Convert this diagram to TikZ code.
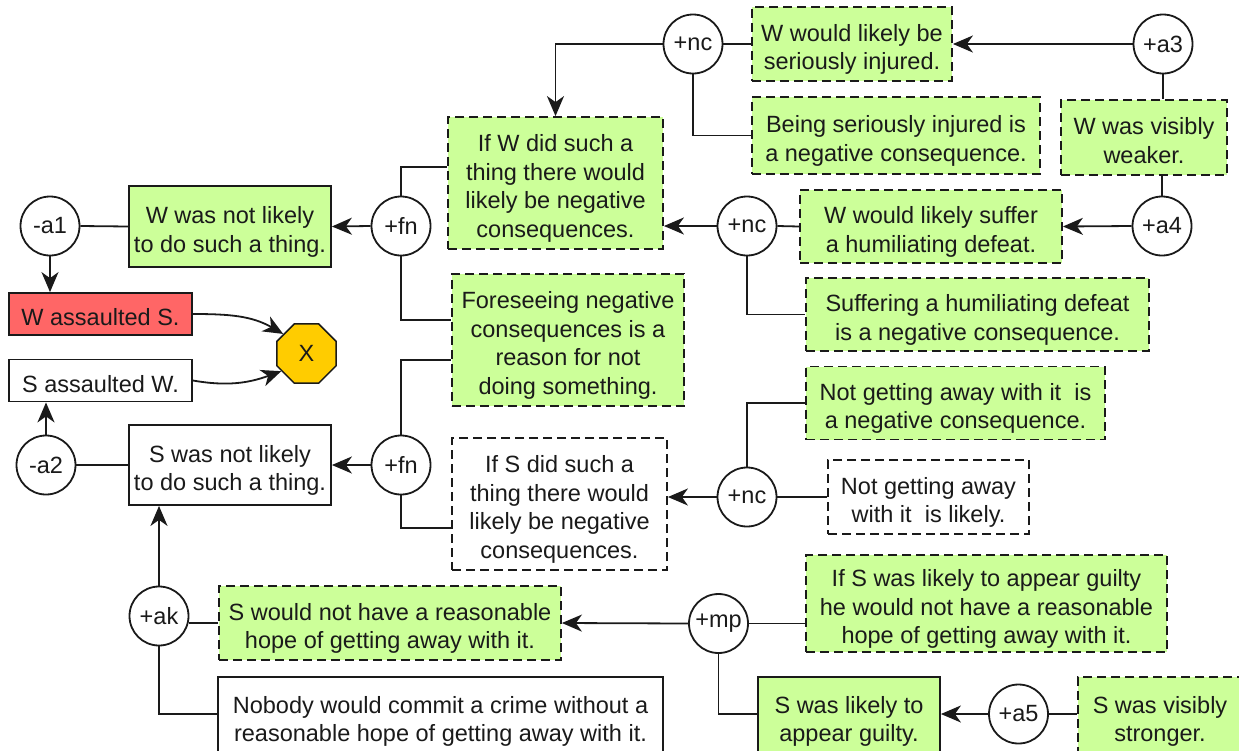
\documentclass[tikz,border=0pt]{standalone}
\usepackage{fontspec}
\setmainfont{Liberation Sans}
\usetikzlibrary{arrows.meta,shapes.geometric}
\definecolor{gfill}{HTML}{CCFF99}
\definecolor{rfill}{HTML}{FF6666}
\definecolor{ofill}{HTML}{FFCC00}
\definecolor{ink}{HTML}{1A1A1A}
\newcommand\TopS{\rule{0pt}{29pt}}
\newcommand\BotS{\rule[-6pt]{0pt}{6pt}}
\begin{document}
\begin{tikzpicture}[x=1pt,y=-1pt,
  every node/.style={font=\fontsize{23.5}{28.7}\selectfont, text=ink},
  circ/.style={circle, draw=ink, line width=1.8pt, fill=white, minimum size=59pt, inner sep=0pt},
  box/.style={rectangle, draw=ink, line width=1.8pt, align=center, inner sep=2pt},
  gbox/.style={box, fill=gfill},
  dbox/.style={box, dash pattern=on 9pt off 5pt},
  link/.style={draw=ink, line width=1.8pt},
  arr/.style={link, -{Stealth[length=20pt,width=17pt,inset=6pt]}},
]
\useasboundingbox (0,0) rectangle (1239,750);

% circles
\node[circ] (a1)  at (50,226)    {-a1};
\node[circ] (fn1) at (401,226)   {+fn};
\node[circ] (a2)  at (46,465)    {-a2};
\node[circ] (fn2) at (401,465)   {+fn};
\node[circ] (ak)  at (159,616)   {+ak};
\node[circ] (ncT) at (693,44)    {+nc};
\node[circ] (a3)  at (1163,44)   {+a3};
\node[circ] (ncM) at (747,226)   {+nc};
\node[circ] (a4)  at (1162,226)  {+a4};
\node[circ] (ncL) at (747,497)   {+nc};
\node[circ] (mp)  at (718.5,623.5) {+mp};
\node[circ] (a5)  at (1018.5,714) {+a5};

% boxes
\node[gbox, minimum width=202pt, minimum height=81pt] (b2) at (230,226.5) {\TopS W was not likely\\to do such a thing.\BotS};
\node[box, fill=rfill, minimum width=183pt, minimum height=42pt] (wS) at (100.5,314) {\TopS W assaulted S.\BotS};
\node[box, fill=white, minimum width=183pt, minimum height=42pt] (sW) at (100.5,380.5) {\TopS S assaulted W.\BotS};
\node[regular polygon, regular polygon sides=8, draw=ink, line width=1.5pt, fill=ofill, minimum size=64pt, inner sep=0pt] (X) at (306.5,353.5) {X};
\node[box, fill=white, minimum width=202pt, minimum height=80pt] (b9) at (230,465) {\TopS S was not likely\\to do such a thing.\BotS};

\node[gbox, dbox, minimum width=215pt, minimum height=132pt] (b11) at (555.5,183) {\TopS If W did such a\\thing there would\\likely be negative\\consequences.\BotS};
\node[gbox, dbox, minimum width=232pt, minimum height=132pt] (b12) at (568,340) {\TopS Foreseeing negative\\consequences is a\\reason for not\\doing something.\BotS};
\node[box, dbox, fill=white, minimum width=215pt, minimum height=132pt] (b13) at (559.5,504) {\TopS If S did such a\\thing there would\\likely be negative\\consequences.\BotS};

\node[gbox, dbox, minimum width=200pt, minimum height=74pt] (b15) at (852,44) {\TopS W would likely be\\seriously injured.\BotS};
\node[gbox, dbox, minimum width=288pt, minimum height=77pt] (b17) at (896,135.5) {\TopS Being seriously injured is\\a negative consequence.\BotS};
\node[gbox, dbox, minimum width=166pt, minimum height=75pt] (b18) at (1144,137.5) {\TopS W was visibly\\weaker.\BotS};
\node[gbox, dbox, minimum width=262pt, minimum height=73pt] (b20) at (931,226.5) {\TopS W would likely suffer\\a humiliating defeat.\BotS};
\node[gbox, dbox, minimum width=343pt, minimum height=73pt] (b22) at (977.5,314.5) {\TopS Suffering a humiliating defeat\\is a negative consequence.\BotS};
\node[gbox, dbox, minimum width=299pt, minimum height=73pt] (b24) at (955.5,403) {\TopS Not getting away with it\ \ is\\a negative consequence.\BotS};
\node[box, dbox, fill=white, minimum width=201pt, minimum height=74pt] (b25) at (928.5,497) {\TopS Not getting away\\with it\ \ is likely.\BotS};

\node[gbox, dbox, minimum width=342pt, minimum height=74pt] (b27) at (390,623) {\TopS S would not have a reasonable\\hope of getting away with it.\BotS};
\node[gbox, dbox, minimum width=361pt, minimum height=97pt] (b28) at (986.5,603.5) {\TopS If S was likely to appear guilty\\he would not have a reasonable\\hope of getting away with it.\BotS};
\node[box, fill=white, minimum width=445pt, minimum height=78pt] (b30) at (440.5,716) {\TopS Nobody would commit a crime without a\\reasonable hope of getting away with it.\BotS};
\node[gbox, minimum width=182pt, minimum height=78pt] (b31) at (849,716) {\TopS S was likely to\\appear guilty.\BotS};
\node[gbox, dbox, minimum width=164pt, minimum height=78pt] (b33) at (1160,716) {\TopS S was visibly\\stronger.\BotS};

% connectors
\draw[link] (a1.east) -- (b2.west);
\draw[arr] (a1.south) -- (a1.south |- wS.north);
\draw[arr] (fn1.west) -- (b2.east);
\draw[link] (fn1.north) |- ([yshift=16pt]b11.west);
\draw[link] (fn1.south) |- ([yshift=20pt]b12.west);
\draw[link] (fn2.north) |- ([yshift=-20pt]b12.west);
\draw[link] (fn2.south) |- ([yshift=-24pt]b13.west);
\draw[arr] (fn2.west) -- (b9.east);
\draw[link] (a2.east) -- (b9.west);
\draw[arr] (a2.north) -- (a2.north |- sW.south);
\draw[arr] (ak.north) -- (ak.north |- b9.south);
\draw[link] (b27.west -| ak.east) -- (b27.west);
\draw[link] (ak.south) |- ([yshift=2pt]b30.west);
\draw[arr] (wS.east) to[out=0,in=150] (X.140);
\draw[arr] (sW.east) to[out=-10,in=200] (X.215);

\draw[arr] (ncT.west) -| (b11.north);
\draw[link] (ncT.east) -- (b15.west);
\draw[link] (ncT.south) |- (b17.west);
\draw[arr] (a3.west) -- (b15.east);
\draw[link] (a3.south) -- (a3.south |- b18.north);
\draw[link] (a4.north) -- (a4.north |- b18.south);
\draw[arr] (a4.west) -- (b20.east);
\draw[arr] (ncM.west) -- (ncM.west -| b11.east);
\draw[link] (ncM.east) -- (b20.west);
\draw[link] (ncM.south) |- (b22.west);
\draw[arr] (ncL.west) -- (ncL.west -| b13.east);
\draw[link] (ncL.east) -- (b25.west);
\draw[link] (ncL.north) |- (b24.west);
\draw[arr] (mp.west) -- (b27.east);
\draw[link] (mp.east) -- (mp.east -| b28.west);
\draw[link] (mp.south) |- ([yshift=2pt]b31.west);
\draw[arr] (a5.west) -- (a5.west -| b31.east);
\draw[link] (a5.east) -- (a5.east -| b33.west);
\end{tikzpicture}
\end{document}
